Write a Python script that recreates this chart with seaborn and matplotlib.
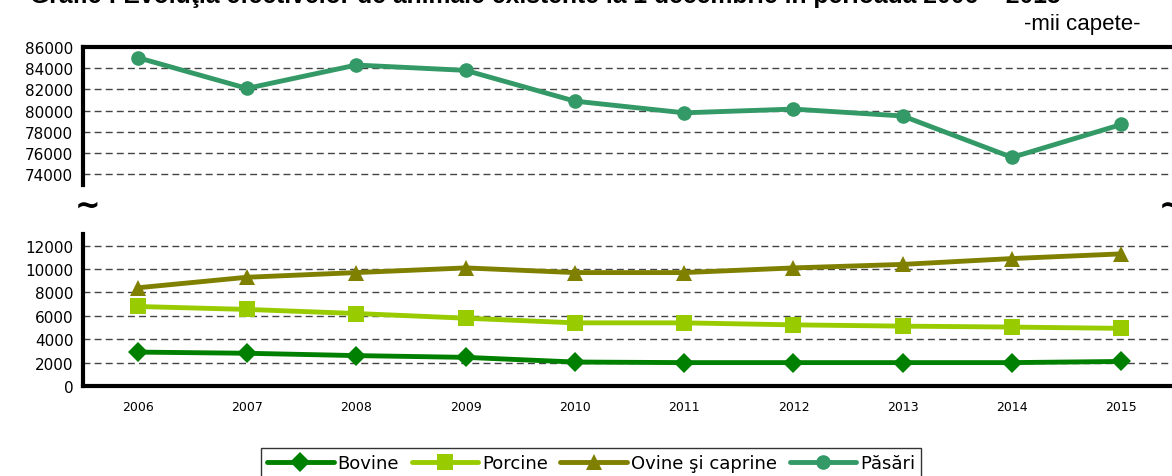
import pandas as pd
import matplotlib.pyplot as plt
import matplotlib.ticker as mticker
import seaborn as sns

# Data (mii capete, 1 decembrie)
years = ['2006', '2007', '2008', '2009', '2010', '2011', '2012', '2013', '2014', '2015']
bovine = [2900, 2800, 2600, 2450, 2050, 2000, 2000, 2000, 2000, 2100]
porcine = [6800, 6550, 6200, 5800, 5400, 5400, 5230, 5120, 5040, 4930]
ovine = [8400, 9300, 9700, 10100, 9700, 9700, 10100, 10400, 10900, 11300]
pasari = [85000, 82100, 84300, 83800, 80900, 79800, 80150, 79500, 75600, 78700]

series_names = ['Bovine', 'Porcine', 'Ovine şi caprine', 'Păsări']
colors = {'Bovine': '#008000', 'Porcine': '#99CC00',
          'Ovine şi caprine': '#808000', 'Păsări': '#339966'}
markers = {'Bovine': 'D', 'Porcine': 's', 'Ovine şi caprine': '^', 'Păsări': 'o'}
msizes = {'Bovine': 10, 'Porcine': 11.5, 'Ovine şi caprine': 12, 'Păsări': 10.5}

df = pd.DataFrame({'Year': years * 4,
                   'Serie': sum([[n] * len(years) for n in series_names], []),
                   'Value': bovine + porcine + ovine + pasari})
df['x'] = df['Year'].map({y: i for i, y in enumerate(years)})

sns.set_style('white')
plt.rcParams['font.family'] = ['DejaVu Sans']
plt.rcParams['text.color'] = 'black'
plt.rcParams['xtick.color'] = 'black'
plt.rcParams['ytick.color'] = 'black'

fig = plt.figure(figsize=(11.72, 4.77), dpi=100)
H = 477.0
x0, xw = 83 / 1172, (1176 - 83) / 1172
ax_top = fig.add_axes([x0, 1 - 186 / H, xw, (186 - 48) / H])
ax_bot = fig.add_axes([x0, 1 - 387 / H, xw, (387 - 235) / H])


def draw(ax, names):
    for n in names:
        d = df[df['Serie'] == n]
        sns.lineplot(data=d, x='x', y='Value', ax=ax, color=colors[n],
                     marker=markers[n], markersize=msizes[n], markeredgewidth=0,
                     linewidth=3.5, label=n, legend=False)
    ax.set_xlim(-0.5, 9.5)
    ax.set_xlabel('')
    ax.set_ylabel('')
    ax.yaxis.grid(True, linestyle=(0, (5, 3)), color='#444444', linewidth=1)
    ax.xaxis.grid(False)
    ax.tick_params(axis='y', which='major', direction='out', length=5, width=3,
                   color='black', labelcolor='black', labelsize=11, pad=2)
    for s in ax.spines.values():
        s.set_visible(False)
    ax.spines['left'].set_visible(True)
    ax.spines['left'].set_linewidth(3)
    ax.spines['left'].set_color('black')
    ax.set_axisbelow(True)


# Upper panel: Păsări
draw(ax_top, ['Păsări'])
ax_top.set_ylim(73000, 86000)
ax_top.set_yticks(range(74000, 86001, 2000))
ax_top.spines['top'].set_visible(True)
ax_top.spines['top'].set_linewidth(3)
ax_top.spines['top'].set_color('black')
ax_top.set_xticks([])

# Lower panel: Bovine, Porcine, Ovine
draw(ax_bot, ['Bovine', 'Porcine', 'Ovine şi caprine'])
ax_bot.set_ylim(0, 13000)
ax_bot.set_yticks(range(0, 12001, 2000))
ax_bot.spines['bottom'].set_visible(True)
ax_bot.spines['bottom'].set_linewidth(3)
ax_bot.spines['bottom'].set_color('black')
ax_bot.set_xticks(range(len(years)))
ax_bot.set_xticklabels(years, fontsize=9)
ax_bot.tick_params(axis='x', which='major', length=0, pad=10, labelcolor='black')
ax_bot.xaxis.set_minor_locator(mticker.FixedLocator([i + 0.5 for i in range(-1, len(years))]))
ax_bot.tick_params(axis='x', which='minor', direction='out', length=4, width=1, color='black')

# Break marks, title and unit
fig.text(88 / 1172, 1 - 206 / H, '~', fontsize=22, fontweight='bold', ha='center', va='center')
fig.text(1172 / 1172, 1 - 206 / H, '~', fontsize=22, fontweight='bold', ha='center', va='center')
fig.text(30 / 1172, 1 - 3 / H,
         'Grafic : Evoluţia efectivelor de animale existente la 1 decembrie în perioada 2006 – 2015',
         fontsize=17.8, fontweight='bold', family='Liberation Sans', ha='left', va='baseline')
fig.text(1140 / 1172, 1 - 30 / H, '-mii capete-', fontsize=16,
         family='Liberation Sans', ha='right', va='baseline')

# Legend
handles = []
labels = []
for ax in (ax_bot, ax_top):
    h, l = ax.get_legend_handles_labels()
    handles += h
    labels += l
order = [labels.index(n) for n in series_names]
leg = fig.legend([handles[i] for i in order], [labels[i] for i in order],
                 loc='upper center', bbox_to_anchor=(591 / 1172, 1 - 440 / H),
                 ncol=4, fontsize=13, frameon=True, fancybox=False,
                 edgecolor='black', handlelength=3.7, handletextpad=0.2,
                 columnspacing=0.7, borderpad=0.35)
leg.get_frame().set_linewidth(1)
for t in leg.get_texts():
    t.set_color('black')

plt.savefig('out.png', dpi=100)
plt.close()
